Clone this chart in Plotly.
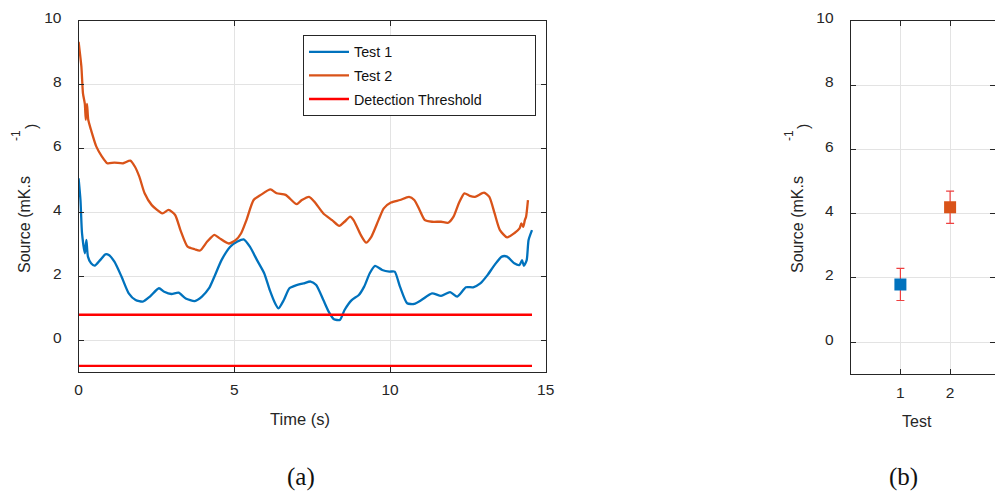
import plotly.graph_objects as go

# ---- data ----
t1_x = [0, 0.06, 0.11, 0.2, 0.25, 0.3, 0.4, 0.52, 0.69, 0.86, 0.97, 1.15, 1.38, 1.61, 1.83, 2.06, 2.29,
        2.58, 2.75, 2.98, 3.21, 3.44, 3.73, 3.96, 4.19, 4.36, 4.59, 4.87, 5.1, 5.3, 5.5, 5.73, 5.96, 6.14,
        6.31, 6.42, 6.59, 6.77, 7.0, 7.22, 7.45, 7.63, 7.86, 8.03, 8.2, 8.39, 8.54, 8.77, 9.0, 9.17, 9.35,
        9.52, 9.75, 9.98, 10.15, 10.32, 10.55, 10.78, 11.01, 11.35, 11.64, 11.93, 12.16, 12.44, 12.67,
        12.9, 13.13, 13.36, 13.59, 13.76, 13.99, 14.16, 14.24, 14.3, 14.39, 14.45, 14.56]
t1_y = [5.07, 4.39, 3.35, 2.72, 3.14, 2.62, 2.41, 2.34, 2.51, 2.69, 2.67, 2.46, 1.99, 1.47, 1.26, 1.21, 1.37,
        1.63, 1.52, 1.45, 1.49, 1.31, 1.23, 1.37, 1.63, 1.99, 2.51, 2.93, 3.09, 3.16, 2.93, 2.51, 2.10, 1.57,
        1.16, 1.0, 1.26, 1.63, 1.73, 1.78, 1.84, 1.73, 1.26, 0.90, 0.66, 0.64, 0.95, 1.26, 1.42, 1.68, 2.10,
        2.33, 2.2, 2.15, 2.15, 1.68, 1.16, 1.14, 1.26, 1.47, 1.39, 1.51, 1.37, 1.66, 1.66,
        1.78, 2.04, 2.36, 2.62, 2.62, 2.41, 2.36, 2.51, 2.33, 2.51, 3.14, 3.45]

t2_x = [0, 0.09, 0.14, 0.2, 0.23, 0.27, 0.31, 0.4, 0.57, 0.75, 0.92, 1.15, 1.43, 1.66, 1.81, 1.95, 2.12,
        2.35, 2.69, 2.89, 3.1, 3.27, 3.5, 3.73, 3.9, 4.13, 4.36, 4.53, 4.82, 5.05, 5.22, 5.39, 5.62, 5.85,
        6.16, 6.36, 6.65, 7.0, 7.17, 7.4, 7.57, 7.86, 8.14, 8.37, 8.54, 8.72, 8.83, 9.06, 9.23, 9.4, 9.63,
        9.8, 10.03, 10.32, 10.61, 10.78, 10.95, 11.12, 11.35, 11.64, 11.87, 12.04, 12.21, 12.39, 12.56,
        12.73, 13.02, 13.19, 13.36, 13.53, 13.76, 13.99, 14.16, 14.22, 14.28, 14.33, 14.37, 14.43]
t2_y = [9.34, 8.56, 7.73, 7.4, 6.9, 7.4, 6.9, 6.58, 6.06, 5.75, 5.54, 5.56, 5.54, 5.62, 5.43, 5.12, 4.6,
        4.23, 3.97, 4.08, 3.92, 3.45, 2.93, 2.85, 2.81, 3.09, 3.30, 3.19, 3.03, 3.14, 3.35, 3.76, 4.39, 4.55,
        4.72, 4.6, 4.55, 4.26, 4.39, 4.49, 4.34, 3.97, 3.76, 3.58, 3.71, 3.87, 3.76, 3.30, 3.06, 3.24, 3.76,
        4.13, 4.31, 4.39, 4.49, 4.39, 4.08, 3.76, 3.71, 3.71, 3.68, 3.87, 4.29, 4.6, 4.52,
        4.49, 4.62, 4.49, 3.97, 3.45, 3.22, 3.35, 3.5, 3.66, 3.55, 3.76, 3.87, 4.39]

threshold_x = [0, 14.56]
threshold_levels = [0.8, -0.8]

tests = [1, 2]
test_means = [1.8, 4.2]
test_err = [0.5, 0.5]

# ---- styles ----
BLUE = "#0072BD"
ORANGE = "#D95319"
RED = "#FF0000"
AX = "#262626"
GRID = "#E3E3E3"
FONT = "Liberation Sans, Arial, sans-serif"

W, H = 995, 495

def px(v):
    return v / W

def py(v):
    return 1 - v / H

fig = go.Figure()

fig.add_trace(go.Scatter(x=t1_x, y=t1_y, mode="lines", name="Test 1", legendgroup="a",
                         line=dict(color=BLUE, width=2.3, shape="spline", smoothing=0.6),
                         xaxis="x", yaxis="y"))
fig.add_trace(go.Scatter(x=t2_x, y=t2_y, mode="lines", name="Test 2", legendgroup="b",
                         line=dict(color=ORANGE, width=2.3, shape="spline", smoothing=0.6),
                         xaxis="x", yaxis="y"))
for i, lev in enumerate(threshold_levels):
    fig.add_trace(go.Scatter(x=threshold_x, y=[lev, lev], mode="lines",
                             name="Detection Threshold" + "&nbsp;" * 12, legendgroup="c",
                             showlegend=(i == 0),
                             line=dict(color=RED, width=2.3), xaxis="x", yaxis="y"))

for i, (t, m, e) in enumerate(zip(tests, test_means, test_err)):
    fig.add_trace(go.Scatter(x=[t], y=[m], mode="markers", showlegend=False,
                             marker=dict(symbol="square", size=12, color=[BLUE, ORANGE][i]),
                             error_y=dict(type="data", array=[e], color="#EE4040", thickness=1.2, width=4),
                             xaxis="x2", yaxis="y2"))

axis_common = dict(showline=True, linecolor=AX, linewidth=1, mirror="ticks", ticks="inside",
                   ticklen=5, tickcolor=AX, showgrid=True, gridcolor=GRID, gridwidth=1,
                   zeroline=False, automargin=False, tickfont=dict(family=FONT, size=15.5, color=AX))

fig.update_layout(
    template="none",
    width=W, height=H, autosize=False,
    margin=dict(l=0, r=0, t=0, b=0, pad=0),
    paper_bgcolor="white", plot_bgcolor="white",
    showlegend=True,
    legend=dict(x=px(303), y=py(35), xanchor="left", yanchor="top",
                bordercolor=AX, borderwidth=1, bgcolor="white",
                font=dict(family=FONT, size=14.3, color="#111111"),
                tracegroupgap=2, itemwidth=40),
    xaxis=dict(domain=[px(78.6), px(545.7)], range=[0, 15], tickvals=[0, 5, 10, 15],
               ticklabelstandoff=3, anchor="y", **axis_common),
    yaxis=dict(domain=[py(372.3), py(20.7)], range=[-1, 10], tickvals=[0, 2, 4, 6, 8, 10],
               ticklabelstandoff=13, ticklabelshift=-3, anchor="x", **axis_common),
    xaxis2=dict(domain=[px(850.7), 1.0], range=[0, (995 - 850.7) / 49.7], tickvals=[1, 2],
                ticklabelstandoff=4, anchor="y2", **axis_common),
    yaxis2=dict(domain=[py(374.3), py(20.7)], range=[-0.995, 10], tickvals=[0, 2, 4, 6, 8, 10],
                ticklabelstandoff=13, ticklabelshift=-3, anchor="x2", **axis_common),
)

def ann(text, x, y, size=16, angle=0, family=FONT, color=AX):
    fig.add_annotation(text=text, x=px(x), y=py(y), xref="paper", yref="paper",
                       showarrow=False, textangle=angle, xanchor="center", yanchor="middle",
                       font=dict(family=family, size=size, color=color))

# axis titles
ann("Time (s)", 300, 419, size=16.5)
ann("Test", 917, 421)
ann("Source (mK.s", 24, 225, angle=-90)
ann(")", 31, 127, angle=-90)
ann("-1", 16, 136, size=12, angle=-90)
ann("Source (mK.s", 797, 225, angle=-90)
ann(")", 803, 127, angle=-90)
ann("-1", 789, 136, size=12, angle=-90)

# panel labels
ann("(a)", 301, 477, size=25, family="Liberation Serif, Times New Roman, serif", color="#111111")
ann("(b)", 903, 477, size=25, family="Liberation Serif, Times New Roman, serif", color="#111111")

fig.write_html(
    "out.html",
    config={"displayModeBar": False, "responsive": False},
    post_script=("document.documentElement.style.margin='0px';"
                 "document.body.style.margin='0px';"
                 "document.body.style.overflow='hidden';"
                 "document.documentElement.style.overflow='hidden';"),
)
